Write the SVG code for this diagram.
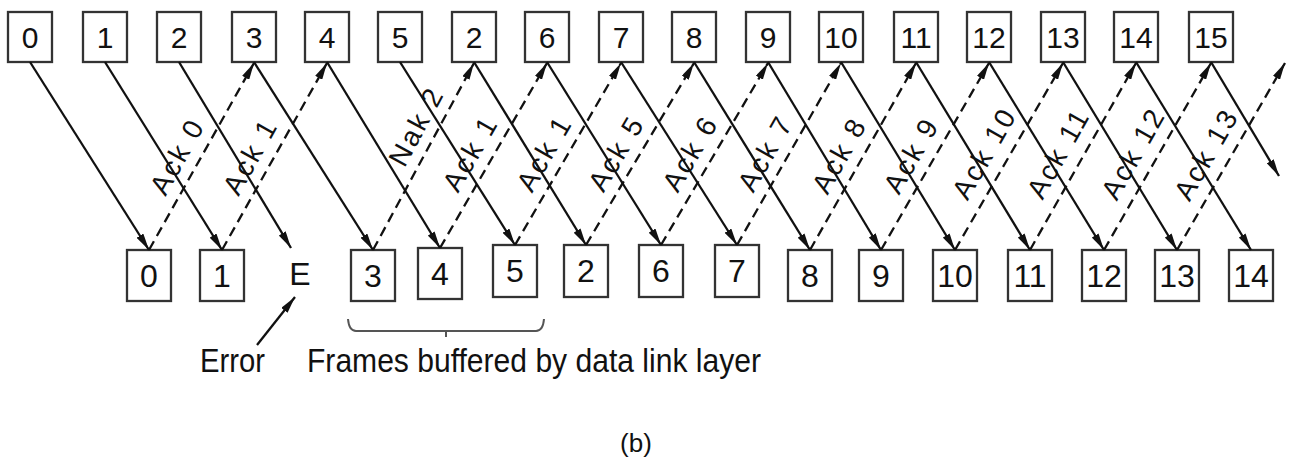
<svg xmlns="http://www.w3.org/2000/svg" width="1294" height="465" viewBox="0 0 1294 465">
<style>
.box{fill:#fff;stroke:#333;stroke-width:2.3}
.num{font-family:"Liberation Sans",Arial,sans-serif;fill:#111;text-anchor:middle}
.tn{font-size:30px}
.bn{font-size:32px}
.sol{stroke:#111;stroke-width:2.3;fill:none;marker-end:url(#ah)}
.das{stroke:#111;stroke-width:2.3;fill:none;stroke-dasharray:10 6;marker-end:url(#ah)}
.lab{font-family:"Liberation Sans",Arial,sans-serif;font-size:28px;fill:#111;text-anchor:middle;letter-spacing:2.5px}
.cap{font-family:"Liberation Sans",Arial,sans-serif;font-size:33px;fill:#111}
</style>
<defs>
<marker id="ah" markerUnits="userSpaceOnUse" markerWidth="18" markerHeight="8" refX="17" refY="4" orient="auto">
<path d="M0,0 L17,4 L0,8 z" fill="#111"/>
</marker>
</defs>
<rect width="1294" height="465" fill="#fff"/>
<g id="top-row">
<g id="t0"><rect class="box" x="8" y="12" width="44" height="50"/><text class="num tn" x="30" y="48">0</text></g>
<g id="t1"><rect class="box" x="83" y="12" width="44" height="50"/><text class="num tn" x="105" y="48">1</text></g>
<g id="t2"><rect class="box" x="157" y="12" width="44" height="50"/><text class="num tn" x="179" y="48">2</text></g>
<g id="t3"><rect class="box" x="232" y="12" width="44" height="50"/><text class="num tn" x="254" y="48">3</text></g>
<g id="t4"><rect class="box" x="305" y="12" width="44" height="50"/><text class="num tn" x="327" y="48">4</text></g>
<g id="t5"><rect class="box" x="378" y="12" width="44" height="50"/><text class="num tn" x="400" y="48">5</text></g>
<g id="t6"><rect class="box" x="452" y="12" width="44" height="50"/><text class="num tn" x="474" y="48">2</text></g>
<g id="t7"><rect class="box" x="525" y="12" width="44" height="50"/><text class="num tn" x="547" y="48">6</text></g>
<g id="t8"><rect class="box" x="599" y="12" width="44" height="50"/><text class="num tn" x="621" y="48">7</text></g>
<g id="t9"><rect class="box" x="672" y="12" width="44" height="50"/><text class="num tn" x="694" y="48">8</text></g>
<g id="t10"><rect class="box" x="746" y="12" width="44" height="50"/><text class="num tn" x="768" y="48">9</text></g>
<g id="t11"><rect class="box" x="819" y="12" width="44" height="50"/><text class="num tn" x="841" y="48">10</text></g>
<g id="t12"><rect class="box" x="894" y="12" width="44" height="50"/><text class="num tn" x="916" y="48">11</text></g>
<g id="t13"><rect class="box" x="967" y="12" width="44" height="50"/><text class="num tn" x="989" y="48">12</text></g>
<g id="t14"><rect class="box" x="1041" y="12" width="44" height="50"/><text class="num tn" x="1063" y="48">13</text></g>
<g id="t15"><rect class="box" x="1114" y="12" width="44" height="50"/><text class="num tn" x="1136" y="48">14</text></g>
<g id="t16"><rect class="box" x="1189" y="12" width="44" height="50"/><text class="num tn" x="1211" y="48">15</text></g>
</g>
<g id="bottom-row">
<g id="b0"><rect class="box" x="127" y="250" width="44" height="51"/><text class="num bn" x="149" y="287">0</text></g>
<g id="b1"><rect class="box" x="200" y="250" width="44" height="51"/><text class="num bn" x="222" y="287">1</text></g>
<g id="b2"><text class="num bn" x="300" y="285">E</text></g>
<g id="b3"><rect class="box" x="351" y="250" width="44" height="51"/><text class="num bn" x="373" y="287">3</text></g>
<g id="b4"><rect class="box" x="418" y="248" width="44" height="51"/><text class="num bn" x="440" y="285">4</text></g>
<g id="b5"><rect class="box" x="493" y="245" width="44" height="52"/><text class="num bn" x="515" y="282">5</text></g>
<g id="b6"><rect class="box" x="564" y="245" width="44" height="52"/><text class="num bn" x="586" y="282">2</text></g>
<g id="b7"><rect class="box" x="639" y="245" width="44" height="52"/><text class="num bn" x="661" y="282">6</text></g>
<g id="b8"><rect class="box" x="715" y="245" width="44" height="52"/><text class="num bn" x="737" y="282">7</text></g>
<g id="b9"><rect class="box" x="788" y="250" width="44" height="51"/><text class="num bn" x="810" y="287">8</text></g>
<g id="b10"><rect class="box" x="859" y="250" width="44" height="51"/><text class="num bn" x="881" y="287">9</text></g>
<g id="b11"><rect class="box" x="933" y="250" width="44" height="51"/><text class="num bn" x="955" y="287">10</text></g>
<g id="b12"><rect class="box" x="1008" y="250" width="44" height="51"/><text class="num bn" x="1030" y="287">11</text></g>
<g id="b13"><rect class="box" x="1082" y="250" width="44" height="51"/><text class="num bn" x="1104" y="287">12</text></g>
<g id="b14"><rect class="box" x="1155" y="250" width="44" height="51"/><text class="num bn" x="1177" y="287">13</text></g>
<g id="b15"><rect class="box" x="1229" y="250" width="44" height="51"/><text class="num bn" x="1251" y="287">14</text></g>
</g>
<g id="connectors">
<line class="sol" x1="30" y1="62" x2="149" y2="250"/>
<line class="sol" x1="105" y1="62" x2="222" y2="250"/>
<line class="sol" x1="179" y1="62" x2="291" y2="248"/>
<line class="sol" x1="254" y1="62" x2="373" y2="250"/>
<line class="sol" x1="327" y1="62" x2="440" y2="248"/>
<line class="sol" x1="400" y1="62" x2="515" y2="245"/>
<line class="sol" x1="474" y1="62" x2="586" y2="245"/>
<line class="sol" x1="547" y1="62" x2="661" y2="245"/>
<line class="sol" x1="621" y1="62" x2="737" y2="245"/>
<line class="sol" x1="694" y1="62" x2="810" y2="250"/>
<line class="sol" x1="768" y1="62" x2="881" y2="250"/>
<line class="sol" x1="841" y1="62" x2="955" y2="250"/>
<line class="sol" x1="916" y1="62" x2="1030" y2="250"/>
<line class="sol" x1="989" y1="62" x2="1104" y2="250"/>
<line class="sol" x1="1063" y1="62" x2="1177" y2="250"/>
<line class="sol" x1="1136" y1="62" x2="1251" y2="250"/>
<line class="sol" x1="1211" y1="62" x2="1279" y2="176"/>
<line class="das" x1="149" y1="250" x2="254" y2="63"/>
<line class="das" x1="222" y1="250" x2="327" y2="63"/>
<line class="das" x1="373" y1="250" x2="474" y2="63"/>
<line class="das" x1="440" y1="248" x2="547" y2="63"/>
<line class="das" x1="515" y1="245" x2="621" y2="63"/>
<line class="das" x1="586" y1="245" x2="694" y2="63"/>
<line class="das" x1="661" y1="245" x2="768" y2="63"/>
<line class="das" x1="737" y1="245" x2="841" y2="63"/>
<line class="das" x1="810" y1="250" x2="916" y2="63"/>
<line class="das" x1="881" y1="250" x2="989" y2="63"/>
<line class="das" x1="955" y1="250" x2="1063" y2="63"/>
<line class="das" x1="1030" y1="250" x2="1136" y2="63"/>
<line class="das" x1="1104" y1="250" x2="1211" y2="63"/>
<line class="das" x1="1177" y1="250" x2="1285" y2="63"/>
<line class="sol" x1="257" y1="345" x2="295" y2="297"/>
</g>
<g id="ack-labels">
<text class="lab" transform="translate(177,156) rotate(-60.8)" y="10">Ack 0</text>
<text class="lab" transform="translate(250,156) rotate(-60.8)" y="10">Ack 1</text>
<text class="lab" transform="translate(416,126) rotate(-61.8)" y="10">Nak 2</text>
<text class="lab" transform="translate(470,153) rotate(-60.1)" y="10">Ack 1</text>
<text class="lab" transform="translate(544,153) rotate(-59.9)" y="10">Ack 1</text>
<text class="lab" transform="translate(616,153) rotate(-59.4)" y="10">Ack 5</text>
<text class="lab" transform="translate(690,153) rotate(-59.7)" y="10">Ack 6</text>
<text class="lab" transform="translate(765,153) rotate(-60.4)" y="10">Ack 7</text>
<text class="lab" transform="translate(839,155) rotate(-60.6)" y="10">Ack 8</text>
<text class="lab" transform="translate(911,155) rotate(-60.1)" y="10">Ack 9</text>
<text class="lab" transform="translate(984,153) rotate(-60.1)" y="10">Ack 10</text>
<text class="lab" transform="translate(1058,153) rotate(-60.6)" y="10">Ack 11</text>
<text class="lab" transform="translate(1133,153) rotate(-60.4)" y="10">Ack 12</text>
<text class="lab" transform="translate(1206,154) rotate(-60)" y="10">Ack 13</text>
</g>
<g id="annotations">
<text id="error" class="cap" x="200" y="372" textLength="65" lengthAdjust="spacingAndGlyphs">Error</text>
<path id="brace" d="M348,319 Q349,331 356,331 L536,331 Q543,331 544,319 M446,331 L446,337" fill="none" stroke="#555" stroke-width="2"/>
<text id="buffered" class="cap" x="307" y="372" textLength="454" lengthAdjust="spacingAndGlyphs">Frames buffered by data link layer</text>
<text id="caption" class="num" style="font-size:26px" x="636" y="452">(b)</text>
</g>
</svg>
